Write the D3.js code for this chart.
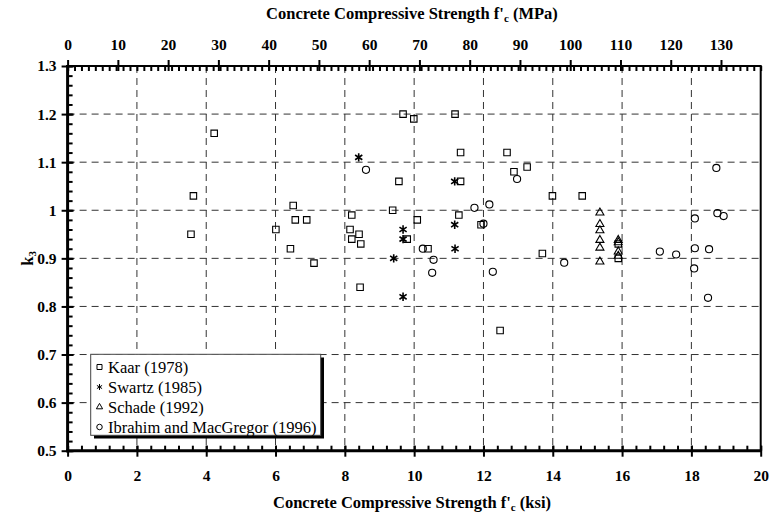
<!DOCTYPE html>
<html lang='en'>
<head>
    <meta charset='UTF-8'>
    <title>k3 vs concrete strength</title>
    <script src='https://d3js.org/d3.v7.min.js' charset='utf-8'></script>
    <style>
        body { margin: 0px; background: white; overflow: hidden; }
        svg text { font-family: 'Liberation Serif', 'Times New Roman', Times, 'DejaVu Serif', serif; }
        .tick text { font-size: 15.5px; font-weight: bold; }
        .title { font-size: 16.5px; font-weight: bold; }
        .legend text { font-size: 16.5px; }
    </style>
</head>
<body>
    <div id='chart'></div>
    <script>
        'use strict';

        // data: [f'c in ksi, k3]
        const kaar = [
            [3.56, 0.95], [3.63, 1.03], [4.23, 1.16], [6.01, 0.96], [6.43, 0.92], [6.51, 1.01],
            [6.57, 0.98], [6.90, 0.98], [7.11, 0.89], [8.15, 0.96], [8.20, 0.99], [8.20, 0.94],
            [8.41, 0.95], [8.44, 0.84], [8.46, 0.93], [9.38, 1.00], [9.56, 1.06], [9.68, 1.20],
            [9.80, 0.94], [9.99, 1.19], [10.09, 0.98], [10.40, 0.92], [11.18, 1.20], [11.29, 0.99],
            [11.34, 1.12], [11.34, 1.06], [11.93, 0.97], [12.48, 0.75], [12.68, 1.12], [12.88, 1.08],
            [13.26, 1.09], [13.70, 0.91], [13.99, 1.03], [14.85, 1.03], [15.89, 0.93], [15.89, 0.90]
        ];
        const swartz = [
            [8.40, 1.11], [9.41, 0.90], [9.68, 0.96], [9.68, 0.94], [9.68, 0.82],
            [11.17, 1.06], [11.17, 0.97], [11.18, 0.92]
        ];
        const schade = [
            [15.36, 0.995], [15.36, 0.971], [15.36, 0.958], [15.36, 0.938], [15.36, 0.922], [15.36, 0.893],
            [15.89, 0.938], [15.89, 0.933], [15.89, 0.914], [15.89, 0.905]
        ];
        const ibrahim = [
            [8.61, 1.084], [10.25, 0.920], [10.52, 0.870], [10.56, 0.897], [11.74, 1.005], [12.00, 0.972],
            [12.17, 1.012], [12.27, 0.872], [12.97, 1.065], [14.33, 0.891], [17.09, 0.914], [17.56, 0.908],
            [18.08, 0.879], [18.10, 0.983], [18.10, 0.921], [18.48, 0.818], [18.51, 0.919], [18.72, 1.088],
            [18.75, 0.994], [18.93, 0.988]
        ];

        const seriesNames = ['Kaar (1978)', 'Swartz (1985)', 'Schade (1992)', 'Ibrahim and MacGregor (1996)'];
        const ksiTicks = [0, 2, 4, 6, 8, 10, 12, 14, 16, 18, 20];
        const mpaTicks = [0, 10, 20, 30, 40, 50, 60, 70, 80, 90, 100, 110, 120, 130];
        const k3Ticks = [0.5, 0.6, 0.7, 0.8, 0.9, 1.0, 1.1, 1.2, 1.3];
        const k3Labels = ['0.5', '0.6', '0.7', '0.8', '0.9', '1', '1.1', '1.2', '1.3'];
        const ksiToMpa = 6.895;
        const serif = "'Liberation Serif', 'Times New Roman', Times, 'DejaVu Serif', serif";

        const margin = { top: 66, right: 9.3, bottom: 67.3, left: 67.6 },
            width = 770 - margin.left - margin.right,
            height = 518 - margin.top - margin.bottom;

        const root = d3.select('#chart')
            .append('svg')
            .attr('width', 770)
            .attr('height', 518)
            .attr('font-family', serif);
        const svg = root.append('g')
            .attr('transform', `translate(${margin.left}, ${margin.top})`);

        const x = d3.scaleLinear().domain([0, 20]).range([0, width]);
        const xTop = d3.scaleLinear().domain([0, 20 * ksiToMpa]).range([0, width]);
        const y = d3.scaleLinear().domain([0.5, 1.3]).range([height, 0]);

        // grid
        svg.append('g')
            .selectAll('line.vg')
            .data(ksiTicks.slice(1, -1))
            .enter().append('line')
            .attr('x1', d => x(d)).attr('x2', d => x(d))
            .attr('y1', 0).attr('y2', height)
            .attr('stroke', '#333').attr('stroke-dasharray', '7,5');
        svg.append('g')
            .selectAll('line.hg')
            .data(k3Ticks.slice(1, -1))
            .enter().append('line')
            .attr('x1', 0).attr('x2', width)
            .attr('y1', d => y(d)).attr('y2', d => y(d))
            .attr('stroke', '#333').attr('stroke-dasharray', '7,5');

        // minor ticks (inside)
        const minorX = d3.range(0, 20.01, 0.4);
        const minorY = d3.range(0.5, 1.301, 0.02);
        const minorTop = d3.range(0, 20.01, 0.2).map(d => d * ksiToMpa);
        svg.append('g').attr('transform', `translate(0, ${height})`)
            .call(d3.axisBottom(x).tickValues(minorX).tickSize(-5).tickFormat(''));
        svg.append('g')
            .call(d3.axisLeft(y).tickValues(minorY).tickSize(-5).tickFormat(''));
        svg.append('g')
            .call(d3.axisTop(xTop).tickValues(minorTop).tickSize(-5).tickFormat(''));

        // major axes
        const xAxis = svg.append('g').attr('transform', `translate(0, ${height})`)
            .call(d3.axisBottom(x).tickValues(ksiTicks).tickSize(6).tickPadding(13));
        xAxis.selectAll('.tick line').attr('y1', -5);
        const topAxis = svg.append('g')
            .call(d3.axisTop(xTop).tickValues(mpaTicks).tickSize(6).tickPadding(10));
        topAxis.selectAll('.tick line').attr('y1', 5);
        const yAxis = svg.append('g')
            .call(d3.axisLeft(y).tickValues(k3Ticks).tickFormat((d, i) => k3Labels[i]).tickSize(6).tickPadding(5));
        yAxis.selectAll('.tick line').attr('x1', 6);

        svg.selectAll('.domain').remove();
        svg.selectAll('g').attr('font-family', serif);
        svg.selectAll('.tick line').attr('stroke', 'black').attr('stroke-width', 2);
        svg.selectAll('.tick text').attr('fill', 'black');

        // frame
        svg.append('line').attr('x1', 0).attr('x2', 0).attr('y1', -1).attr('y2', height + 1.5)
            .attr('stroke', 'black').attr('stroke-width', 3);
        svg.append('line').attr('x1', -1.5).attr('x2', width + 1).attr('y1', height).attr('y2', height)
            .attr('stroke', 'black').attr('stroke-width', 3);
        svg.append('line').attr('x1', -1.5).attr('x2', width + 1).attr('y1', 0).attr('y2', 0)
            .attr('stroke', 'black').attr('stroke-width', 2);
        svg.append('line').attr('x1', width).attr('x2', width).attr('y1', 0).attr('y2', height)
            .attr('stroke', 'black').attr('stroke-width', 2);

        // markers
        const starPath = 'M0,-4.2V4.2M-3.6,-2.4L3.6,2.4M-3.6,2.4L3.6,-2.4';
        const shapes = [
            s => d3.symbol(d3.symbolSquare, 42 * s)(),
            s => starPath,
            s => d3.symbol(d3.symbolTriangle, 28 * s)(),
            s => d3.symbol(d3.symbolCircle, 40 * s)()
        ];
        const allSeries = [kaar, swartz, schade, ibrahim];

        allSeries.forEach((data, i) => {
            svg.append('g')
                .selectAll('path')
                .data(data)
                .enter().append('path')
                .attr('transform', d => `translate(${x(d[0])}, ${y(d[1])})`)
                .attr('d', shapes[i](1))
                .attr('fill', 'none')
                .attr('stroke', 'black')
                .attr('stroke-width', i === 1 ? 1.6 : 1.1);
        });

        // legend
        const legend = root.append('g').attr('class', 'legend');
        legend.append('rect')
            .attr('x', 94).attr('y', 357.5).attr('width', 230).attr('height', 81)
            .attr('fill', 'black');
        legend.append('rect')
            .attr('x', 90.7).attr('y', 354.3).attr('width', 230).attr('height', 81)
            .attr('fill', 'white').attr('stroke', '#444').attr('stroke-width', 1);
        seriesNames.forEach((name, i) => {
            const cy = 367 + i * 20;
            legend.append('path')
                .attr('transform', `translate(99.5, ${cy})`)
                .attr('d', i === 1 ? 'M0,-3V3M-2.6,-1.6L2.6,1.6M-2.6,1.6L2.6,-1.6' : shapes[i](0.6))
                .attr('fill', 'none').attr('stroke', 'black').attr('stroke-width', 1);
            legend.append('text')
                .attr('x', 108).attr('y', cy + 5.5)
                .text(name);
        });

        // titles
        const topTitle = root.append('text').attr('class', 'title')
            .attr('x', 412).attr('y', 19).attr('text-anchor', 'middle');
        topTitle.append('tspan').text("Concrete Compressive Strength f'");
        topTitle.append('tspan').attr('font-size', '11px').attr('dy', 3).text('c');
        topTitle.append('tspan').attr('dy', -3).text(' (MPa)');

        const bottomTitle = root.append('text').attr('class', 'title')
            .attr('x', 412).attr('y', 508).attr('text-anchor', 'middle');
        bottomTitle.append('tspan').text("Concrete Compressive Strength f'");
        bottomTitle.append('tspan').attr('font-size', '11px').attr('dy', 3).text('c');
        bottomTitle.append('tspan').attr('dy', -3).text(' (ksi)');

        const yTitle = root.append('text').attr('class', 'title')
            .attr('transform', `translate(33, ${margin.top + height / 2}) rotate(-90)`)
            .attr('text-anchor', 'middle');
        yTitle.append('tspan').text('k');
        yTitle.append('tspan').attr('font-size', '11px').attr('dy', 3).text('3');
    </script>
</body>
</html>
